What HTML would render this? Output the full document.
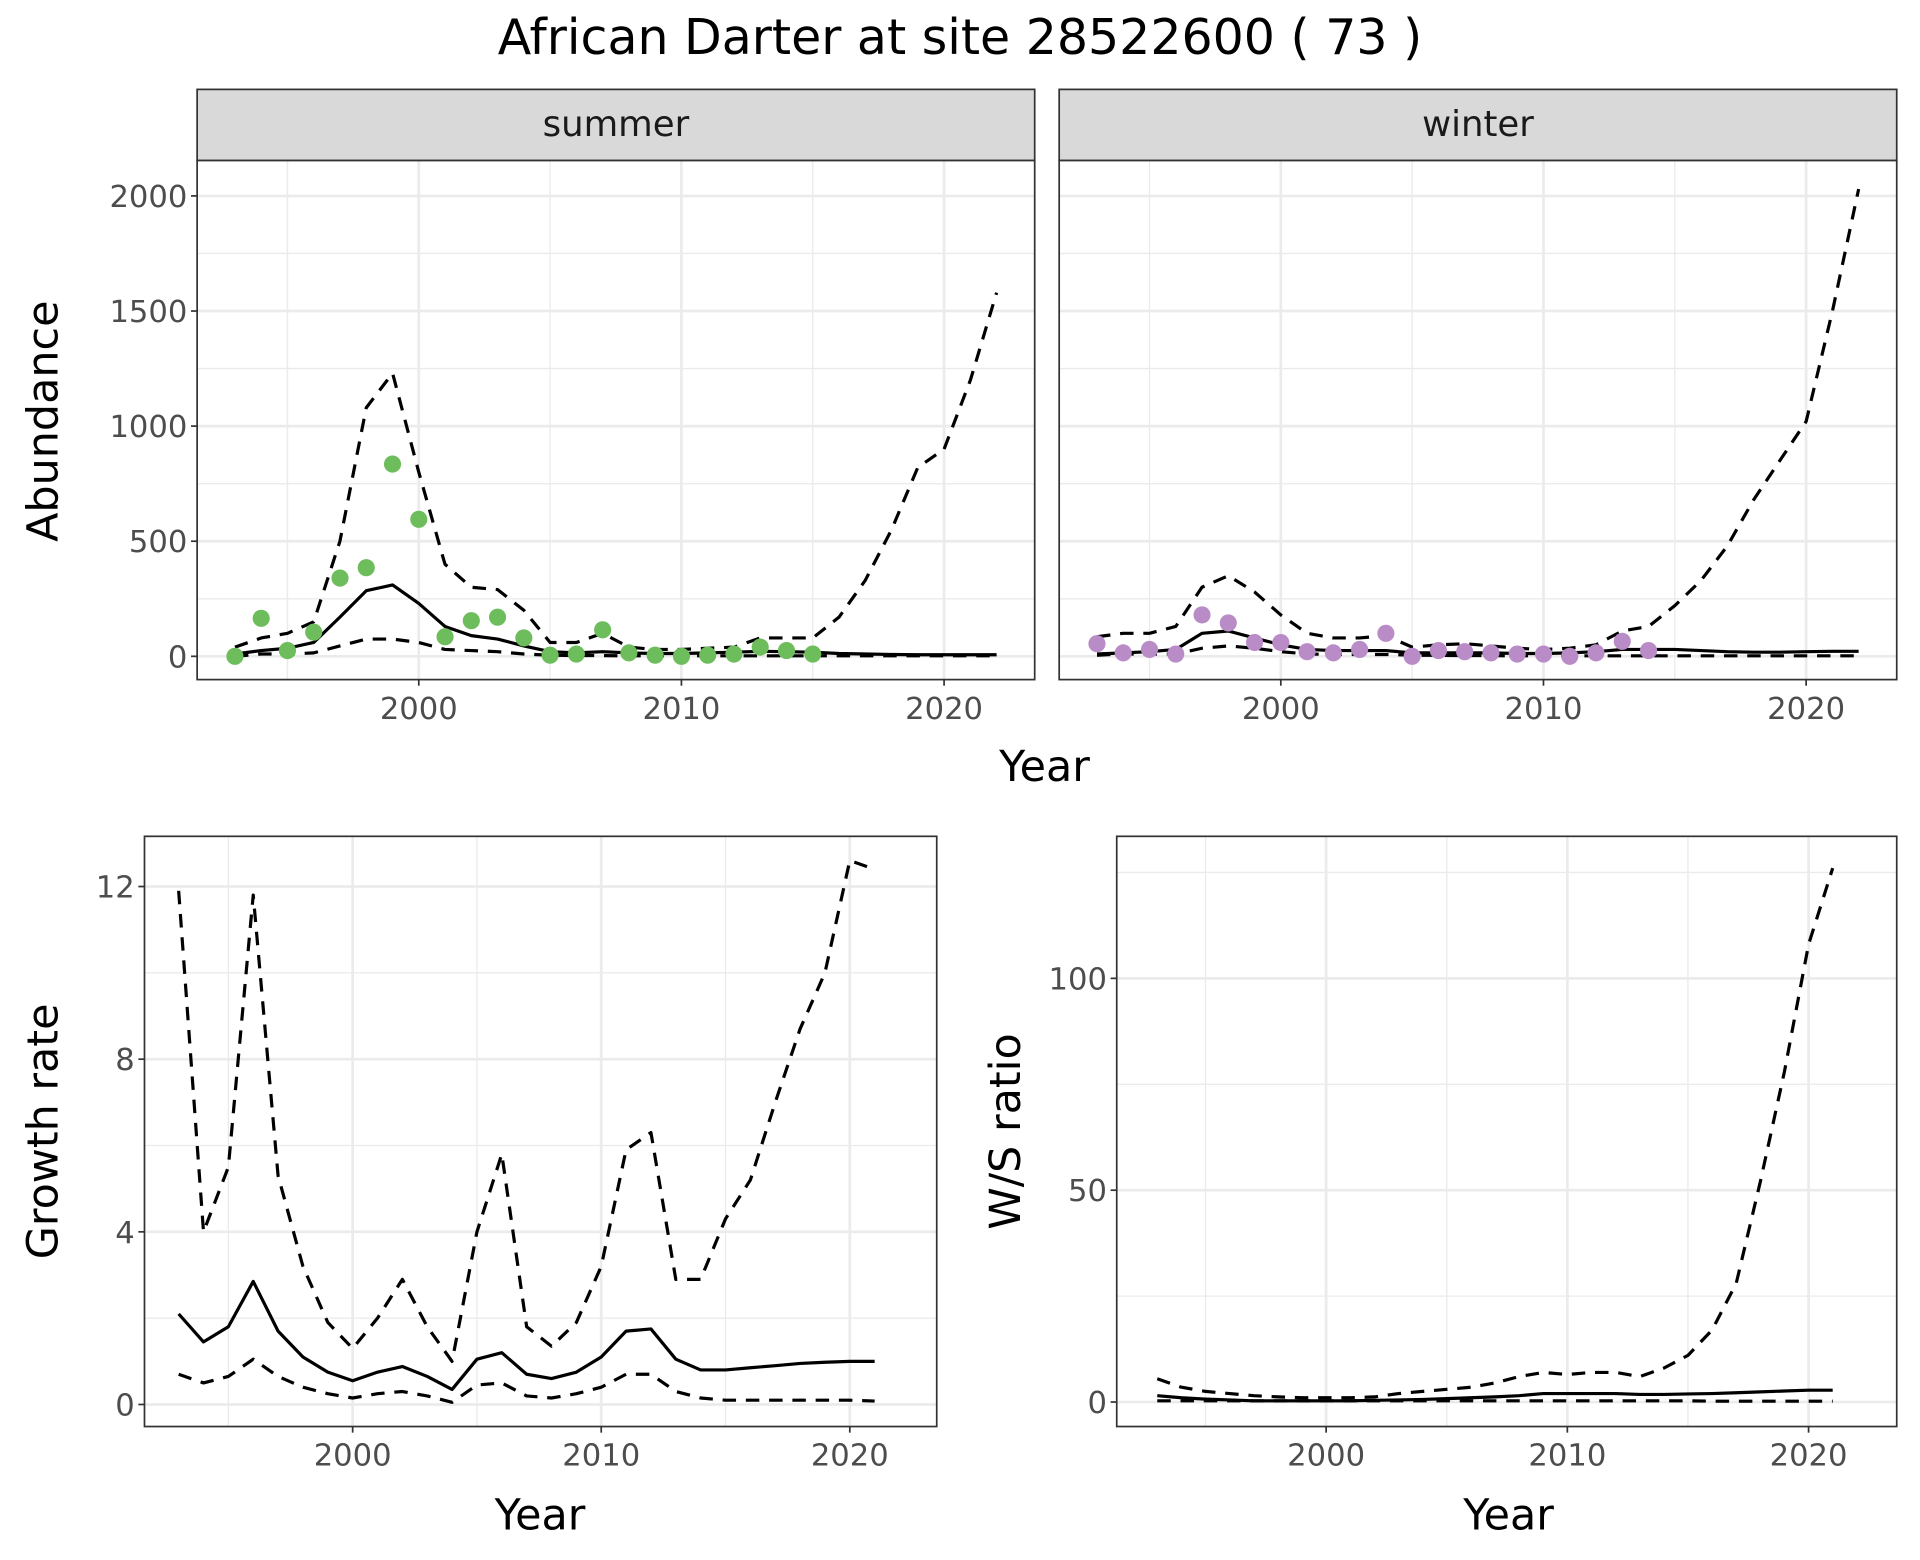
<!DOCTYPE html>
<html><head><meta charset="utf-8"><style>
html,body{margin:0;padding:0;background:#fff;}
svg{display:block;font-family:"DejaVu Sans","Liberation Sans",sans-serif;}
</style></head><body>
<svg id="chart" width="1920" height="1560" viewBox="0 0 1568 1274" xmlns="http://www.w3.org/2000/svg">
<rect width="1568" height="1274" fill="#fff"/>
<text x="784" y="44" text-anchor="middle" font-size="40" fill="#000">African Darter at site 28522600 ( 73 )</text>
<g id="root"></g>
</svg>
<script>
const yearsA = [1993,1994,1995,1996,1997,1998,1999,2000,2001,2002,2003,2004,2005,2006,2007,2008,2009,2010,2011,2012,2013,2014,2015,2016,2017,2018,2019,2020,2021,2022];
const sumMean = [10,25,35,60,170,285,310,230,130,90,75,45,20,15,20,15,12,12,15,18,22,20,18,12,10,8,7,7,7,7];
const sumUpper = [40,80,100,150,500,1080,1230,800,400,300,290,200,60,60,100,40,30,30,35,40,80,80,80,170,330,550,820,900,1200,1580];
const sumLower = [0,10,10,15,45,75,75,60,30,25,20,10,5,3,3,2,2,2,2,2,2,2,2,2,2,2,2,2,2,2];
const sumPtsYears = [1993,1994,1995,1996,1997,1998,1999,2000,2001,2002,2003,2004,2005,2006,2007,2008,2009,2010,2011,2012,2013,2014,2015];
const sumPts = [0,165,25,105,340,385,835,595,85,155,170,80,5,10,115,15,5,0,5,10,40,25,10];
const winMean = [10,15,20,30,100,110,80,50,30,25,25,25,15,15,15,15,12,12,15,20,30,30,30,25,20,18,18,20,22,22];
const winUpper = [85,100,100,130,300,350,280,180,100,80,80,90,40,50,55,45,35,30,35,50,110,130,220,330,480,680,850,1020,1500,2030];
const winLower = [5,10,10,10,35,45,35,20,10,8,8,8,5,4,3,3,2,2,2,2,2,2,2,2,2,2,2,2,2,2];
const winPtsYears = [1993,1994,1995,1996,1997,1998,1999,2000,2001,2002,2003,2004,2005,2006,2007,2008,2009,2010,2011,2012,2013,2014];
const winPts = [55,15,30,10,180,145,60,60,20,15,30,100,0,25,20,15,10,10,0,15,65,25];
const yearsB = [1993,1994,1995,1996,1997,1998,1999,2000,2001,2002,2003,2004,2005,2006,2007,2008,2009,2010,2011,2012,2013,2014,2015,2016,2017,2018,2019,2020,2021];
const grMean = [2.1,1.45,1.8,2.85,1.7,1.1,0.75,0.55,0.75,0.88,0.65,0.35,1.05,1.2,0.7,0.6,0.75,1.1,1.7,1.75,1.05,0.8,0.8,0.85,0.9,0.95,0.98,1.0,1.0];
const grUpper = [11.9,4.0,5.5,11.8,5.3,3.2,1.9,1.3,2.0,2.9,1.8,1.0,4.0,5.8,1.8,1.35,1.9,3.2,5.9,6.3,2.9,2.9,4.3,5.2,7.0,8.7,10.0,12.6,12.4];
const grLower = [0.7,0.5,0.65,1.05,0.65,0.4,0.25,0.15,0.25,0.3,0.2,0.05,0.45,0.5,0.2,0.15,0.25,0.4,0.7,0.7,0.3,0.15,0.1,0.1,0.1,0.1,0.1,0.1,0.08];
const wsMean = [1.5,1,0.7,0.5,0.3,0.3,0.3,0.3,0.3,0.4,0.5,0.6,0.8,1,1.2,1.5,2,2,2,2,1.8,1.8,1.9,2,2.2,2.4,2.6,2.8,2.8];
const wsUpper = [5.5,3.5,2.5,2,1.5,1.2,1,1,1,1.2,2,2.5,3,3.5,4.5,6,7,6.5,7,7,6,8,11,17,28,52,78,108,126];
const wsLower = [0.3,0.3,0.3,0.3,0.3,0.3,0.3,0.3,0.3,0.3,0.3,0.3,0.3,0.3,0.3,0.3,0.3,0.3,0.3,0.3,0.3,0.3,0.3,0.2,0.2,0.2,0.2,0.2,0.2];
const abTicks = [0,500,1000,1500,2000];
const grTicks = [0,4,8,12];
const wsTicks = [0,50,100];
const xTicks = [2000,2010,2020];

const NS = "http://www.w3.org/2000/svg";
const root = document.getElementById('root');
function mk(tag, attrs, parent, txt){
  const e = document.createElementNS(NS, tag);
  for (const k in attrs) e.setAttribute(k, attrs[k]);
  if (txt !== undefined) e.textContent = txt;
  (parent||root).appendChild(e);
  return e;
}
function scale(d0,d1,r0,r1){return v => r0 + (v-d0)/(d1-d0)*(r1-r0);}

function panel(p){
  const g = mk('g', {});
  
  
  const sx = scale(p.xd[0],p.xd[1],p.xr[0],p.xr[1]);
  const sy = scale(p.yd[0],p.yd[1],p.yr[0],p.yr[1]);
  const minorY = [];
  for (let i=0;i<p.yTicks.length-1;i++) minorY.push((p.yTicks[i]+p.yTicks[i+1])/2);
  if (p.extraMinorY) minorY.push(p.extraMinorY);
  minorY.forEach(v=>{ const y=sy(v); if(y>p.top && y<p.bottom) mk('line',{x1:p.left,x2:p.right,y1:y,y2:y,stroke:'#ebebeb','stroke-width':1.1},g);});
  [1995,2005,2015].forEach(v=>{const x=sx(v); mk('line',{x1:x,x2:x,y1:p.top,y2:p.bottom,stroke:'#ebebeb','stroke-width':1.1},g);});
  p.yTicks.forEach(v=>{const y=sy(v); mk('line',{x1:p.left,x2:p.right,y1:y,y2:y,stroke:'#ebebeb','stroke-width':2.2},g);});
  xTicks.forEach(v=>{const x=sx(v); mk('line',{x1:x,x2:x,y1:p.top,y2:p.bottom,stroke:'#ebebeb','stroke-width':2.2},g);});
  function line(xs, ys, dash, nm){
    const d = xs.map((x,i)=>(i?'L':'M')+sx(x).toFixed(1)+','+sy(ys[i]).toFixed(1)).join(' ');
    const pth = mk('path',{d:d,fill:'none',stroke:'#000','stroke-width':2.6,'stroke-dasharray':dash?'11 8':'none','stroke-linejoin':'round'},g);
    
    
  }
  line(p.years, p.upper, true, 'upper-bound-line');
  line(p.years, p.lower, true, 'lower-bound-line');
  line(p.years, p.mean, false, 'mean-line');
  if (p.pts){
    p.ptsYears.forEach((yr,i)=>{
      const c = mk('circle',{cx:sx(yr),cy:sy(p.pts[i]),r:7,fill:p.color},g);
      
      
    });
  }
  mk('rect',{x:p.left,y:p.top,width:p.right-p.left,height:p.bottom-p.top,fill:'none',stroke:'#333','stroke-width':1.4},g);
  if (p.showY){
    p.yTicks.forEach(v=>{const y=sy(v);
      mk('line',{x1:p.left-5,x2:p.left,y1:y,y2:y,stroke:'#333','stroke-width':1.4},g);
      const t=mk('text',{x:p.left-8,y:y+9,'text-anchor':'end','font-size':25,fill:'#4d4d4d'},g,String(v));
      
      
    });
  }
  xTicks.forEach(v=>{const x=sx(v);
    mk('line',{x1:x,x2:x,y1:p.bottom,y2:p.bottom+5,stroke:'#333','stroke-width':1.4},g);
    const t=mk('text',{x:x,y:p.bottom+32,'text-anchor':'middle','font-size':25,fill:'#4d4d4d'},g,String(v));
    
    
  });
  if (p.strip){
    mk('rect',{x:p.left,y:p.stripTop,width:p.right-p.left,height:p.top-p.stripTop,fill:'#d9d9d9',stroke:'#333','stroke-width':1.4},g);
    const t=mk('text',{x:(p.left+p.right)/2,y:(p.stripTop+p.top)/2+9,'text-anchor':'middle','font-size':29,fill:'#1a1a1a'},g,p.strip);
    
    
  }
  return g;
}

panel({name:'summer-panel',left:161,right:845,top:131,bottom:555,stripTop:73,strip:'summer',
  xd:[2000,2020],xr:[342,771],yd:[0,2000],yr:[536,160],yTicks:abTicks,extraMinorY:2250,showY:true,
  years:yearsA,mean:sumMean,upper:sumUpper,lower:sumLower,ptsYears:sumPtsYears,pts:sumPts,color:'#6dbd5c'});
panel({name:'winter-panel',left:865,right:1549,top:131,bottom:555,stripTop:73,strip:'winter',
  xd:[2000,2020],xr:[1046,1475],yd:[0,2000],yr:[536,160],yTicks:abTicks,extraMinorY:2250,showY:false,
  years:yearsA,mean:winMean,upper:winUpper,lower:winLower,ptsYears:winPtsYears,pts:winPts,color:'#b98cc7'});
panel({name:'growth-rate-panel',left:118,right:765,top:683,bottom:1165,
  xd:[2000,2020],xr:[288,694],yd:[0,12],yr:[1147,724],yTicks:grTicks,extraMinorY:14,showY:true,
  years:yearsB,mean:grMean,upper:grUpper,lower:grLower});
panel({name:'ws-ratio-panel',left:912,right:1549,top:683,bottom:1165,
  xd:[2000,2020],xr:[1083,1477],yd:[0,100],yr:[1145,799],yTicks:wsTicks,extraMinorY:125,showY:true,
  years:yearsB,mean:wsMean,upper:wsUpper,lower:wsLower});

function label(txt,x,y,rot,nm){
  const t = mk('text',{x:x,y:y,'text-anchor':'middle','font-size':35,fill:'#000',transform:rot?`rotate(-90 ${x} ${y})`:''},root,txt);
  
  
}
label('Year',853,638,false,'top-x-axis-title');
label('Abundance',47,344,true,'abundance-y-axis-title');
label('Year',441,1249,false,'growth-x-axis-title');
label('Growth rate',47,924,true,'growth-rate-y-axis-title');
label('Year',1232,1249,false,'ws-x-axis-title');
label('W/S ratio',833,924,true,'ws-ratio-y-axis-title');
</script>
</body></html>
